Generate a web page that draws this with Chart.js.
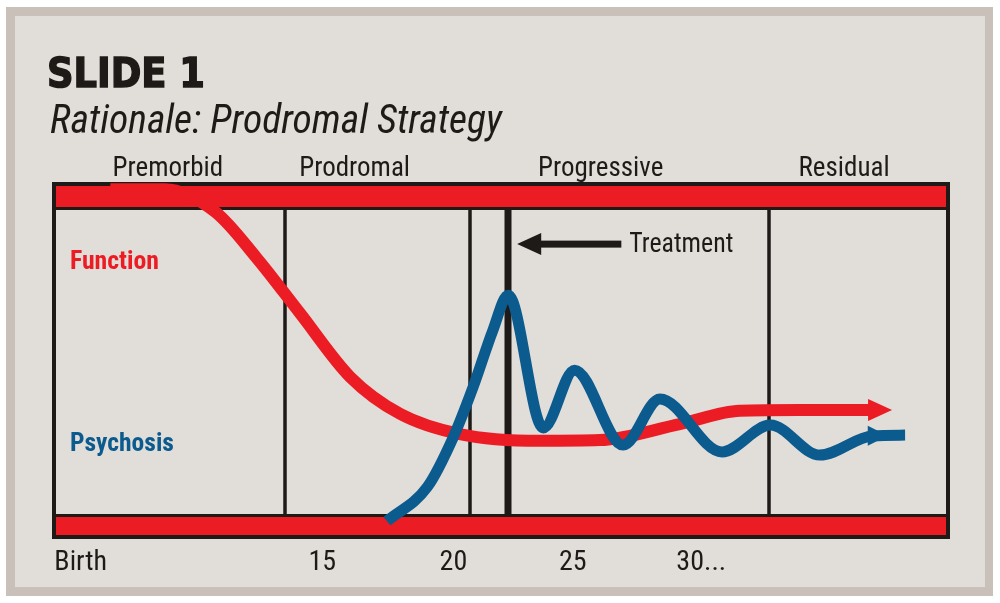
<!DOCTYPE html>
<html>
<head>
<meta charset="utf-8">
<script src="https://cdn.jsdelivr.net/npm/chart.js@4.4.1/dist/chart.umd.min.js"></script>
<style>
  html, body { margin: 0; padding: 0; background: #fff; }
</style>
</head>
<body>
<canvas id="myChart" width="1000" height="603"></canvas>
<script>
// ---- data (x: timeline 0-100 across the box, y: 0-100 bottom to top) ----
let titleText = "SLIDE 1";
let subtitleText = "Rationale: Prodromal Strategy";

let phaseNames = ["Premorbid", "Prodromal", "Progressive", "Residual"];
let phaseLabelX = [12.9, 33.7, 61.1, 88.2];
let phaseBounds = [25.9, 46.5, 79.8];
let treatmentX = 50.8;
let treatmentLabel = "Treatment";
let treatmentArrowX = [51.8, 63.4]; // tip, tail
let treatmentArrowY = 82.6;

let tickLabels = ["Birth", "15", "20", "25", "30..."];
let tickX = [3.2, 30.1, 44.7, 58.0, 72.3];

let seriesNames = ["Function", "Psychosis"];
let seriesLabelX = [2.0, 2.0];
let seriesLabelY = [75.6, 24.7];

let functionX = [6.5, 12.6, 18.2, 22.8, 27.6, 33.2, 38.8, 45.4, 54.3, 61.0, 69.9, 76.6, 83.3, 91.1];
let functionY = [98.0, 98.0, 91.6, 78.7, 63.3, 45.4, 35.0, 29.4, 27.5, 27.7, 32.2, 35.9, 36.1, 36.1];

let psychosisX = [37.3, 41.8, 44.7, 46.9, 49.1, 50.8, 54.7, 58.2, 63.6, 67.7, 74.6, 80.0, 85.5, 91.4, 95.0];
let psychosisY = [5.0, 14.6, 28.6, 42.6, 58.5, 68.3, 31.1, 47.3, 26.3, 39.2, 24.4, 31.9, 23.5, 28.9, 29.1];

const RED = "#ec1c24";
const BLUE = "#0b5b8f";
const DARK = "#1e1a18";
const NARROW = '"Liberation Sans Narrow", "Roboto Condensed", "DejaVu Sans Condensed", sans-serif';

function pts(xs, ys) {
  return xs.map((x, i) => ({ x: x, y: ys[i] }));
}

function arrowHead(ctx, px, py, back, len, half, color) {
  ctx.fillStyle = color;
  ctx.beginPath();
  ctx.moveTo(px - back, py - half);
  ctx.lineTo(px - back + len, py);
  ctx.lineTo(px - back, py + half);
  ctx.closePath();
  ctx.fill();
}

const slideFrame = {
  id: "slideFrame",
  beforeDraw(chart) {
    const ctx = chart.ctx;
    ctx.save();
    ctx.fillStyle = "#fff";
    ctx.fillRect(0, 0, chart.width, chart.height);
    ctx.fillStyle = "#c9c1b9";
    ctx.fillRect(6, 7, 987, 589);
    ctx.fillStyle = "#e1ddd8";
    ctx.fillRect(15, 16, 970, 571);

    ctx.fillStyle = DARK;
    ctx.strokeStyle = DARK;
    ctx.textBaseline = "alphabetic";
    ctx.textAlign = "left";
    ctx.font = 'bold 40px "DejaVu Sans"';
    ctx.lineWidth = 1.5;
    ctx.fillText(titleText, 47, 87, 158);
    ctx.strokeText(titleText, 47, 87, 158);
    ctx.font = "italic 40px " + NARROW;
    ctx.fillText(subtitleText, 50, 133, 452);
    ctx.restore();
  },
  beforeDatasetsDraw(chart) {
    const { ctx, chartArea: a, scales: { x, y } } = chart;
    ctx.save();
    // red bands with dark outline
    ctx.fillStyle = DARK;
    ctx.fillRect(a.left, a.top, a.right - a.left, 28);
    ctx.fillRect(a.left, a.bottom - 25, a.right - a.left, 25);
    ctx.fillRect(a.left, a.top, 4, a.bottom - a.top);
    ctx.fillRect(a.right - 4, a.top, 4, a.bottom - a.top);
    ctx.fillStyle = RED;
    ctx.fillRect(a.left + 4, a.top + 4, a.right - a.left - 8, 21);
    ctx.fillRect(a.left + 4, a.bottom - 22, a.right - a.left - 8, 18);

    // phase boundaries
    ctx.strokeStyle = DARK;
    ctx.lineWidth = 3.5;
    phaseBounds.forEach(b => {
      const px = Math.round(x.getPixelForValue(b));
      ctx.beginPath();
      ctx.moveTo(px, a.top + 28);
      ctx.lineTo(px, a.bottom - 25);
      ctx.stroke();
    });
    ctx.lineWidth = 7;
    const tx = Math.round(x.getPixelForValue(treatmentX));
    ctx.beginPath();
    ctx.moveTo(tx, a.top + 28);
    ctx.lineTo(tx, a.bottom - 25);
    ctx.stroke();

    // treatment arrow
    const tipX = x.getPixelForValue(treatmentArrowX[0]);
    const tailX = x.getPixelForValue(treatmentArrowX[1]);
    const ay = y.getPixelForValue(treatmentArrowY);
    ctx.fillStyle = DARK;
    ctx.fillRect(tipX + 20, ay - 3.5, tailX - tipX - 20, 7);
    ctx.beginPath();
    ctx.moveTo(tipX, ay);
    ctx.lineTo(tipX + 24, ay - 11);
    ctx.lineTo(tipX + 24, ay + 11);
    ctx.closePath();
    ctx.fill();
    ctx.font = "27px " + NARROW;
    ctx.textAlign = "left";
    ctx.textBaseline = "alphabetic";
    ctx.fillText(treatmentLabel, tailX + 8, ay + 8, 104);

    // phase names
    ctx.textAlign = "center";
    phaseNames.forEach((n, i) => {
      ctx.fillText(n, x.getPixelForValue(phaseLabelX[i]), a.top - 6);
    });

    // tick labels
    ctx.font = "28px " + NARROW;
    tickLabels.forEach((t, i) => {
      ctx.fillText(t, x.getPixelForValue(tickX[i]), a.bottom + 31);
    });

    // series labels
    ctx.textAlign = "left";
    ctx.font = "bold 26px " + NARROW;
    [RED, BLUE].forEach((c, i) => {
      ctx.fillStyle = c;
      ctx.fillText(seriesNames[i], x.getPixelForValue(seriesLabelX[i]), y.getPixelForValue(seriesLabelY[i]), i === 0 ? 89 : 104);
    });
    ctx.restore();
  },
  afterDatasetsDraw(chart) {
    const ctx = chart.ctx;
    ctx.save();
    // function arrow at the end of the line
    const fm = chart.getDatasetMeta(1).data;
    const fe = fm[fm.length - 1];
    arrowHead(ctx, fe.x, fe.y, 2, 24, 11, RED);
    // psychosis arrow near the end
    const pm = chart.getDatasetMeta(0).data;
    const pe = pm[pm.length - 2];
    arrowHead(ctx, pe.x, pe.y, 5, 20, 10, BLUE);
    ctx.restore();
  }
};

let chart = new Chart("myChart", {
  type: "line",
  data: {
    datasets: [{
      label: seriesNames[1],
      data: pts(psychosisX, psychosisY),
      borderColor: BLUE,
      borderWidth: 11,
      borderCapStyle: "butt",
      borderJoinStyle: "round",
      cubicInterpolationMode: "monotone",
      pointRadius: 0,
      fill: false,
      clip: false
    },
    {
      label: seriesNames[0],
      data: pts(functionX, functionY),
      borderColor: RED,
      borderWidth: 12,
      borderCapStyle: "butt",
      borderJoinStyle: "round",
      cubicInterpolationMode: "monotone",
      pointRadius: 0,
      fill: false,
      clip: false
    }]
  },
  options: {
    responsive: false,
    animation: false,
    layout: { padding: { left: 52, right: 50, top: 182, bottom: 64 } },
    plugins: {
      legend: { display: false },
      tooltip: { enabled: false },
      title: { display: false }
    },
    scales: {
      x: { type: "linear", min: 0, max: 100, display: false },
      y: { type: "linear", min: 0, max: 100, display: false }
    }
  },
  plugins: [slideFrame]
});
</script>
</body>
</html>
